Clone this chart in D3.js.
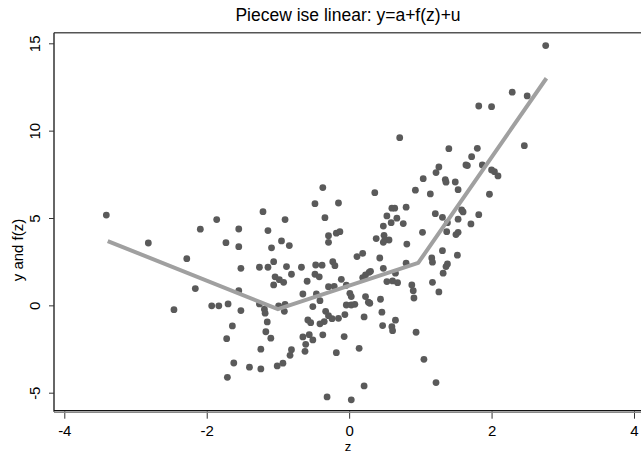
<!DOCTYPE html>
<html>
<head>
<meta charset="utf-8">
<script src="https://cdn.jsdelivr.net/npm/d3@7"></script>
<style>
  html, body { margin: 0; padding: 0; background: #fff; }
  svg { display: block; font-family: "Liberation Sans", Arial, sans-serif; }
</style>
</head>
<body>
<div id="chart"></div>
<script>
// ---- data ----
const titleText = "Piecew ise linear: y=a+f(z)+u";
const xLabel = "z";
const yLabel = "y and f(z)";
const xTicks = [-4, -2, 0, 2, 4];
const yTicks = [-5, 0, 5, 10, 15];

// scatter: z values
const zVals = [
 -3.41,-2.82,-2.09,-1.86,-1.55,-1.73,-1.55,-2.28,-1.52,-1.26,-2.16,-1.55,-2.46,-1.93,-1.83,-1.70,-1.52,-1.26,-1.64,
 -0.37,-0.48,-0.15,-0.34,-1.21,-1.14,-0.90,-0.29,-0.18,-0.13,-0.29,-0.95,-0.84,-1.09,0.11,-1.06,-1.14,-0.88,-0.67,
 -0.47,-0.38,-0.23,-0.20,-1.04,-0.98,-0.92,-0.81,-0.48,-0.42,-0.59,-0.11,-1.06,-0.29,-0.21,-0.04,0.01,0.03,-0.65,
 -0.46,-0.41,-0.99,-0.90,-0.51,-0.04,0.03,0.08,-1.19,-1.18,-0.91,-0.33,-0.29,-0.24,-0.15,-0.06,-0.35,-0.41,-0.58,
 -0.54,-1.15,-1.17,-1.72,-1.10,-0.65,-0.56,-0.51,-0.37,-0.07,-0.61,-0.62,-1.24,-0.81,-0.83,-0.18,0.14,-1.62,-1.40,
 -1.24,-1.01,-0.93,-1.71,-0.31,0.03,
 1.82,0.71,1.40,1.80,1.72,1.64,1.66,1.26,1.22,1.04,1.35,1.36,1.49,0.93,1.53,0.36,1.14,0.60,0.64,0.80,1.58,1.60,
 0.53,0.59,0.67,1.21,1.31,1.82,0.48,0.76,1.53,1.38,1.71,1.37,1.53,1.50,1.03,0.38,0.49,0.50,0.56,0.48,0.81,1.31,
 1.52,0.43,0.19,1.16,1.17,1.38,1.36,0.80,0.48,0.30,0.28,0.23,0.19,1.32,0.65,0.53,0.61,0.68,1.17,1.26,0.88,0.90,
 0.91,0.23,0.27,0.29,0.44,0.46,0.21,0.65,0.60,0.61,0.47,0.94,1.05,0.21,1.22,
 2.76,2.29,2.50,2.00,2.46,1.87,2.00,2.04,2.09,1.97
];
// scatter: y values
const yVals = [
 5.17,3.57,4.36,4.91,4.37,3.59,3.36,2.67,2.12,2.18,0.96,0.84,-0.25,-0.03,-0.03,0.08,-0.30,0.08,-1.18,
 6.74,5.82,5.86,5.02,5.36,4.28,4.91,3.99,4.13,4.22,3.61,3.69,3.42,3.29,2.79,2.50,2.18,2.22,2.18,
 2.31,2.30,2.50,2.27,1.63,1.47,1.32,1.78,1.78,1.63,1.38,1.49,1.17,1.07,1.09,1.15,0.69,0.50,0.65,
 0.65,0.27,-0.03,0.06,-0.07,0.02,0.02,0.06,-0.22,-0.45,-0.34,-0.34,-0.59,-0.76,-0.74,-0.53,-0.93,-1.06,-0.84,
 -0.99,-0.95,-1.51,-1.91,-1.88,-1.81,-1.68,-1.98,-1.69,-1.79,-2.23,-2.63,-2.51,-2.54,-2.86,-2.71,-2.46,-3.30,-3.54,
 -3.64,-3.47,-3.31,-4.12,-5.24,-5.41,
 11.41,9.60,8.97,8.99,8.51,8.04,8.00,7.92,7.60,7.25,7.20,7.05,7.06,6.59,6.62,6.45,6.38,5.56,5.56,5.62,5.46,5.35,
 5.12,4.73,4.99,5.25,5.04,5.19,4.54,4.68,4.93,4.73,4.66,4.22,4.18,4.05,4.18,3.82,4.01,3.74,3.74,3.61,3.51,3.13,
 2.87,2.71,2.98,2.71,2.47,2.37,2.22,2.41,2.12,1.95,1.89,1.74,1.59,1.84,1.84,1.36,1.40,1.30,1.32,0.77,1.17,0.84,
 0.42,0.50,0.18,0.12,0.35,-0.39,-0.66,-0.85,-1.22,-1.45,-1.16,-1.54,-3.09,-4.61,-4.42,
 14.87,12.20,11.99,11.37,9.14,8.04,7.75,7.65,7.41,6.36
];
// piecewise linear fit f(z)
const fitZ = [-3.39, -1.00, 0.97, 2.77];
const fitY = [3.68, -0.22, 2.43, 13.0];

// ---- drawing ----
const W = 641, H = 454;
const svg = d3.select("#chart").append("svg").attr("width", W).attr("height", H);

const x = d3.scaleLinear().domain([-4, 4]).range([64.3, 634]);
const y = d3.scaleLinear().domain([-5, 15]).range([392.7, 43.3]);
const fmt = d => String(d);   // plain hyphen-minus, as in the reference

const plotLeft = 54, plotTop = 32.7, plotBottom = 410.7, plotRight = W;

// title
svg.append("text")
  .attr("x", 348).attr("y", 21)
  .attr("text-anchor", "middle")
  .attr("font-size", 17.5)
  .attr("fill", "#000")
  .text(titleText);

// top border
svg.append("line")
  .attr("x1", plotLeft).attr("x2", plotRight)
  .attr("y1", plotTop).attr("y2", plotTop)
  .attr("stroke", "#555").attr("stroke-width", 1.6);

// scatter points
const pts = zVals.map((z, i) => ({ z: z, v: yVals[i] }));
svg.append("g").selectAll("circle").data(pts).join("circle")
  .attr("cx", d => x(d.z)).attr("cy", d => y(d.v))
  .attr("r", 3.4)
  .attr("fill", "#5a5a5a");

// fitted line
const fit = fitZ.map((z, i) => ({ z: z, v: fitY[i] }));
svg.append("path")
  .datum(fit)
  .attr("d", d3.line().x(d => x(d.z)).y(d => y(d.v)))
  .attr("fill", "none")
  .attr("stroke", "#a0a0a0")
  .attr("stroke-width", 4)
  .attr("stroke-linejoin", "round")
  .attr("stroke-linecap", "butt");

// y axis
const yAxis = svg.append("g")
  .attr("transform", `translate(${plotLeft},0)`)
  .call(d3.axisLeft(y).tickValues(yTicks).tickSize(5).tickFormat(fmt));
yAxis.select(".domain").remove();
yAxis.append("line")
  .attr("x1", 0).attr("x2", 0).attr("y1", plotTop).attr("y2", plotBottom + 1)
  .attr("stroke", "#333").attr("stroke-width", 1.5);
yAxis.selectAll(".tick line").attr("stroke", "#333").attr("stroke-width", 1);
yAxis.selectAll(".tick text")
  .attr("x", null).attr("dy", null)
  .attr("text-anchor", "middle")
  .attr("transform", "translate(-14.5,0) rotate(-90)")
  .attr("font-size", 15)
  .attr("font-family", "Liberation Sans, Arial, sans-serif")
  .attr("fill", "#000");

// x axis
const xAxis = svg.append("g")
  .attr("transform", `translate(0,${plotBottom})`)
  .call(d3.axisBottom(x).tickValues(xTicks).tickSize(8).tickFormat(fmt));
xAxis.select(".domain").remove();
xAxis.append("line")
  .attr("x1", plotLeft).attr("x2", plotRight).attr("y1", 0).attr("y2", 0)
  .attr("stroke", "#111").attr("stroke-width", 1.2);
xAxis.append("line")
  .attr("x1", plotLeft).attr("x2", plotRight).attr("y1", 1.6).attr("y2", 1.6)
  .attr("stroke", "#888").attr("stroke-width", 1.4);
xAxis.selectAll(".tick line").attr("stroke", "#333").attr("stroke-width", 1);
xAxis.selectAll(".tick text")
  .attr("y", 25).attr("dy", null)
  .attr("font-size", 15)
  .attr("font-family", "Liberation Sans, Arial, sans-serif")
  .attr("fill", "#000");

// axis titles
svg.append("text")
  .attr("x", 348).attr("y", 451)
  .attr("text-anchor", "middle")
  .attr("font-size", 13)
  .attr("fill", "#000")
  .text(xLabel);

svg.append("text")
  .attr("transform", "translate(23,250) rotate(-90)")
  .attr("text-anchor", "middle")
  .attr("font-size", 15)
  .attr("fill", "#000")
  .text(yLabel);
</script>
</body>
</html>
